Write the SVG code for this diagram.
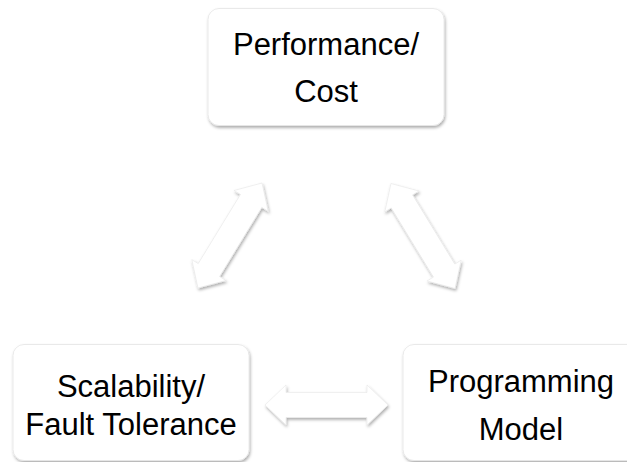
<svg xmlns="http://www.w3.org/2000/svg" xmlns:xlink="http://www.w3.org/1999/xlink" width="627" height="462" viewBox="0 0 627 462">
  <defs>
    <!-- soft drop shadow falling down and slightly right -->
    <filter id="shadow" x="-15%" y="-15%" width="135%" height="140%">
      <feGaussianBlur in="SourceAlpha" stdDeviation="1.6"/>
      <feOffset dx="1" dy="2" result="blur"/>
      <feFlood flood-color="#000000" flood-opacity="0.32"/>
      <feComposite in2="blur" operator="in"/>
      <feMerge>
        <feMergeNode/>
        <feMergeNode in="SourceGraphic"/>
      </feMerge>
    </filter>
    <!-- double-headed block arrow, centred on the origin, pointing along x -->
    <path id="dblArrow" d="M-61.5,0 L-40.5,-20 L-40.5,-12.5 L40.5,-12.5 L40.5,-20 L61.5,0 L40.5,20 L40.5,12.5 L-40.5,12.5 L-40.5,20 Z"/>
  </defs>
  <style>
    .box { fill: #ffffff; stroke: #e4e4e4; stroke-width: 0.8; }
    .arrow { fill: #ffffff; stroke: #e8e8e8; stroke-width: 0.6; stroke-linejoin: miter; }
    .label { font-family: "Liberation Sans", Arial, sans-serif; font-size: 31px; fill: #000000; text-anchor: middle; }
  </style>

  <rect width="627" height="462" fill="#ffffff"/>

  <!-- connectors -->
  <g id="connectors">
    <g filter="url(#shadow)">
      <use xlink:href="#dblArrow" class="arrow" transform="translate(230,235.5) rotate(-58.6)"/>
    </g>
    <g filter="url(#shadow)">
      <use xlink:href="#dblArrow" class="arrow" transform="translate(423,236) rotate(58.6)"/>
    </g>
    <g filter="url(#shadow)">
      <use xlink:href="#dblArrow" class="arrow" transform="translate(326.5,405)"/>
    </g>
  </g>

  <!-- Performance / Cost -->
  <g id="node-performance">
    <rect class="box" x="208" y="8.5" width="236" height="117" rx="11" filter="url(#shadow)"/>
    <text class="label" x="326" y="55">Performance/</text>
    <text class="label" x="326" y="102">Cost</text>
  </g>

  <!-- Scalability / Fault Tolerance -->
  <g id="node-scalability">
    <rect class="box" x="13" y="344.5" width="236" height="116" rx="11" filter="url(#shadow)"/>
    <text class="label" x="131" y="397">Scalability/</text>
    <text class="label" x="131" y="435">Fault Tolerance</text>
  </g>

  <!-- Programming Model -->
  <g id="node-programming">
    <rect class="box" x="403" y="344.5" width="236" height="116" rx="11" filter="url(#shadow)"/>
    <text class="label" x="521" y="392">Programming</text>
    <text class="label" x="521" y="440">Model</text>
  </g>
</svg>
